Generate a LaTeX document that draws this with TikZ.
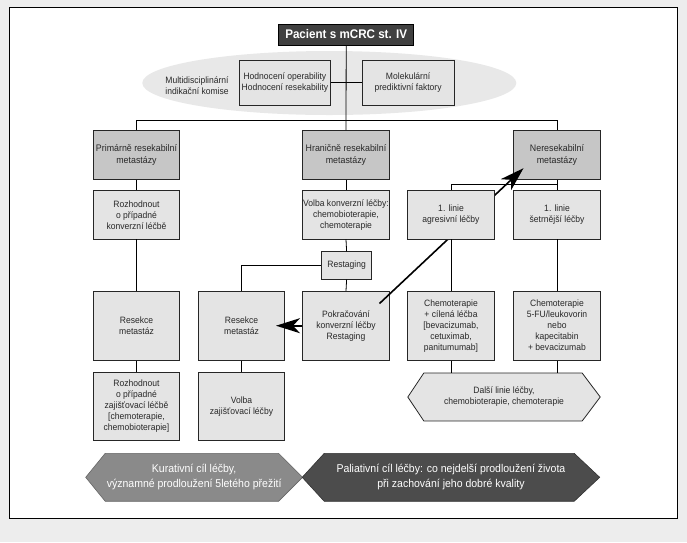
\documentclass[tikz,border=0pt]{standalone}
\usepackage{fontspec}
\setmainfont{Liberation Sans}[FakeStretch=0.93]
\usetikzlibrary{arrows.meta,calc,shapes.geometric}
\pgfdeclarelayer{back}
\pgfdeclarelayer{bg}
\pgfsetlayers{back,bg,main}
\definecolor{darkbox}{HTML}{404040}
\definecolor{midbox}{HTML}{C6C6C6}
\definecolor{lightbox}{HTML}{E4E4E4}
\definecolor{ellfill}{HTML}{E8E8E8}
\definecolor{txt}{HTML}{282828}
\definecolor{kurfill}{HTML}{8A8A8A}
\definecolor{palfill}{HTML}{4C4C4C}
\definecolor{outside}{HTML}{EDEDED}
\begin{document}
\begin{tikzpicture}[x=1pt,y=-1pt,
  base/.style={align=center, inner sep=1pt, text=txt, font=\fontsize{9.2}{11}\selectfont},
  box/.style={base, draw=black!85, line width=0.8pt, fill=lightbox, minimum width=86.5pt},
  headbox/.style={box, fill=midbox, minimum height=49pt, font=\fontsize{9.5}{12.5}\selectfont},
  rowtwo/.style={box, minimum height=48.5pt},
  rowthree/.style={box, minimum height=69pt},
  rowfour/.style={box, minimum height=68pt},
  hexnode/.style={base, minimum height=47.5pt, draw=none},
  conn/.style={draw=black, line width=0.8pt},
  bigarrow/.style={draw=black, line width=1.8pt, -{Stealth[length=24pt,width=15pt,inset=7pt]}},
]
\useasboundingbox (0,0) rectangle (687,542);
\begin{pgfonlayer}{back}
\fill[outside] (0,0) rectangle (687,542);
\draw[fill=white, line width=0.9pt] (9.6,7.5) rectangle (677,518.3);
\end{pgfonlayer}

% ellipse background
\node[ellipse, fill=ellfill, minimum width=374pt, minimum height=64pt, inner sep=0pt] (komise) at (329.3,83) {};
\node[base] (komtext) at (197,86) {Multidisciplinární\\indikační komise};

% title
\node[draw=black, line width=0.8pt, fill=darkbox, text=white, minimum width=135pt, minimum height=21pt, inner sep=1pt,
      font=\bfseries\fontsize{12.5}{14}\selectfont] (title) at (346.2,34.5) {Pacient s mCRC st. IV};

\node[box, minimum width=91pt, minimum height=45.7pt] (hod) at (284.9,82.8) {Hodnocení operability\\Hodnocení resekability};
\node[box, minimum width=91.7pt, minimum height=45.7pt] (mol) at (408.1,82.8) {Molekulární\\prediktivní faktory};

% row 1
\node[headbox] (pr) at (136.5,155) {Primárně resekabilní\\metastázy};
\node[headbox] (hr) at (346,155) {Hraničně resekabilní\\metastázy};
\node[headbox] (ne) at (557,155) {Neresekabilní\\metastázy};

% row 2
\node[rowtwo] (rk) at (136.5,214.8) {Rozhodnout\\o případné\\konverzní léčbě};
\node[rowtwo] (vk) at (346,214.8) {Volba konverzní léčby:\\chemobioterapie,\\chemoterapie};
\node[rowtwo] (se) at (557,214.8) {1. linie\\šetrnější léčby};

% restaging
\node[box, minimum width=50pt, minimum height=27.6pt] (rest) at (346.6,265.5) {Restaging};

% row 3
\node[rowthree] (rsl) at (136.5,325.7) {Resekce\\metastáz};
\node[rowthree] (rsm) at (241.5,325.7) {Resekce\\metastáz};
\node[rowthree] (pok) at (346,325.7) {Pokračování\\konverzní léčby\\Restaging};
\node[rowthree] (chc) at (451,325.7) {Chemoterapie\\+ cílená léčba\\{[}bevacizumab,\\cetuximab,\\panitumumab{]}};
\node[rowthree] (chf) at (557,325.7) {Chemoterapie\\5-FU/leukovorin\\nebo\\kapecitabin\\+ bevacizumab};

% long arrow (drawn over Pokračování, under agresivní box)
\coordinate (s2) at (379.5,303.5);
\coordinate (t2) at (523.5,168.2);
\draw[bigarrow, line width=1.6pt] (s2) -- (t2);

\node[rowtwo] (ag) at (451,214.8) {1. linie\\agresivní léčby};

% row 4
\node[rowfour] (rzl) at (136.5,406.2) {Rozhodnout\\o případné\\zajišťovací léčbě\\{[}chemoterapie,\\chemobioterapie{]}};
\node[rowfour] (vz) at (241.5,406.2) {Volba\\zajišťovací léčby};

% hexagons
\node[hexnode, minimum width=192pt] (dl) at (504,397) {Další linie léčby,\\chemobioterapie, chemoterapie};
\node[hexnode, minimum width=216.5pt, text=white, font=\fontsize{11.3}{15}\selectfont] (kur) at (194.15,477.3) {Kurativní cíl léčby,\\významné prodloužení 5letého přežití};
\node[hexnode, minimum width=297.1pt, text=white, font=\fontsize{11.3}{15}\selectfont] (pal) at (450.95,477.3) {Paliativní cíl léčby: co nejdelší prodloužení života\\při zachování jeho dobré kvality};

\begin{pgfonlayer}{bg}
\filldraw[fill=lightbox, draw=black!85, line width=0.8pt]
  (dl.west) -- ([xshift=16pt]dl.north west) -- ([xshift=-18pt]dl.north east) -- (dl.east)
  -- ([xshift=-18pt]dl.south east) -- ([xshift=16pt]dl.south west) -- cycle;
\filldraw[fill=kurfill, draw=black!60, line width=0.6pt]
  (kur.west) -- ([xshift=19.5pt]kur.north west) -- ([xshift=-24pt]kur.north east) -- (kur.east)
  -- ([xshift=-24pt]kur.south east) -- ([xshift=19.5pt]kur.south west) -- cycle;
\filldraw[fill=palfill, draw=black!80, line width=0.6pt]
  (pal.west) -- ([xshift=22pt]pal.north west) -- ([xshift=-25.5pt]pal.north east) -- (pal.east)
  -- ([xshift=-25.5pt]pal.south east) -- ([xshift=22pt]pal.south west) -- cycle;
\end{pgfonlayer}

% connectors
\coordinate (bus) at (346.2,120);
\coordinate (split) at (557,184.5);
\draw[conn] (title.south) -- (hr.north);
\draw[conn] (hod.east) -- (mol.west);
\draw[conn] (pr.north) -- (pr.north |- bus) -- (ne.north |- bus) -- (ne.north);
\draw[conn] (pr.south) -- (rk.north);
\draw[conn] (rk.south) -- (rsl.north);
\draw[conn] (rsl.south) -- (rzl.north);
\draw[conn] (hr.south) -- (vk.north);
\draw[conn] (vk.south) -- (rest.north);
\draw[conn] (rest.south) -- (pok.north);
\draw[conn] (rest.west) -| (rsm.north);
\draw[conn] (rsm.south) -- (vz.north);
\draw[conn] (ne.south) -- (se.north);
\draw[conn] (ag.north) |- (split);
\draw[conn] (ag.south) -- (chc.north);
\draw[conn] (se.south) -- (chf.north);
\draw[conn] (chc.south) -- (chc.south |- dl.north);
\draw[conn] (chf.south) -- (chf.south |- dl.north);

% short arrow
\coordinate (t1) at (276,325.7);
\draw[bigarrow] (pok.west) -- (t1);
\end{tikzpicture}
\end{document}
